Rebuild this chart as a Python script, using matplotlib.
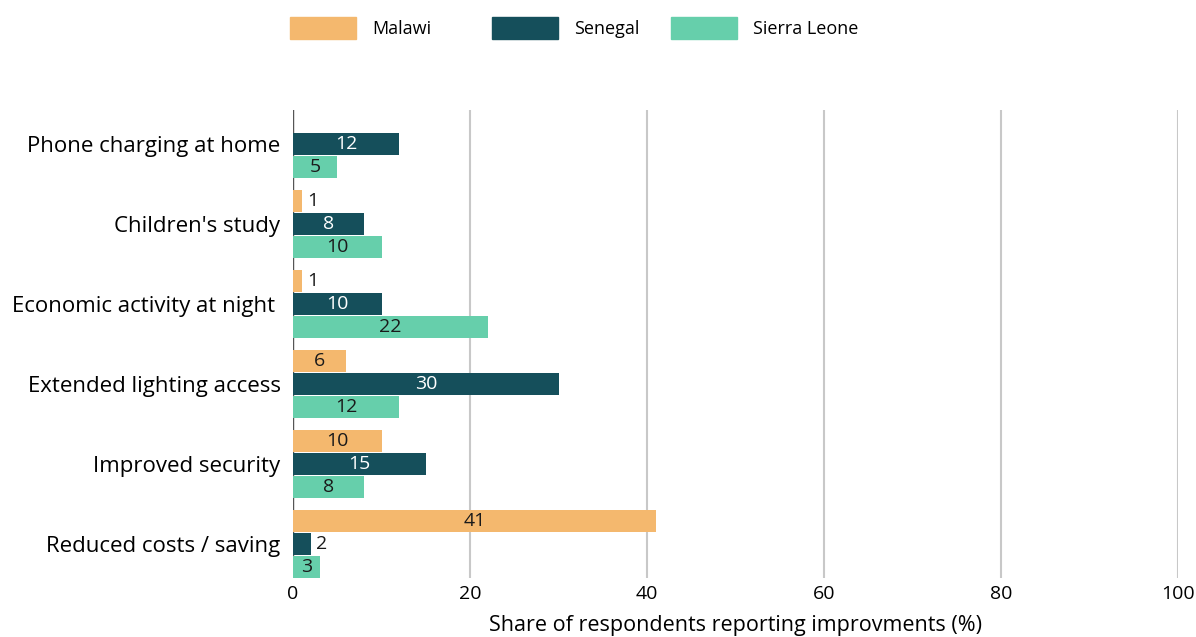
import matplotlib
matplotlib.use('Agg')
import matplotlib.pyplot as plt
from matplotlib.patches import Patch
import numpy as np

plt.rcParams['font.family'] = ['Open Sans', 'DejaVu Sans']

categories = ['Phone charging at home', "Children's study", 'Economic activity at night ',
              'Extended lighting access', 'Improved security', 'Reduced costs / saving']
countries = ['Malawi', 'Senegal', 'Sierra Leone']
malawi = [0, 1, 1, 6, 10, 41]
senegal = [12, 8, 10, 30, 15, 2]
sierra_leone = [5, 10, 22, 12, 8, 3]
xticks = [0, 20, 40, 60, 80, 100]

colors = ['#F4B86E', '#154F5B', '#66CFAB']
label_colors = ['#1a1a1a', 'white', '#1a1a1a']

fig = plt.figure(figsize=(11.96, 6.37), dpi=100)
ax = fig.add_axes([293 / 1196, 1 - 578 / 637, (1178 - 293) / 1196, 468 / 637])

y = np.arange(len(categories))
step = 0.2875
height = 0.275
series = [malawi, senegal, sierra_leone]
for i, (name, vals) in enumerate(zip(countries, series)):
    pos = y + (i - 1) * step
    ax.barh(pos, vals, height=height, color=colors[i], label=name, zorder=3)
    for yy, v in zip(pos, vals):
        if v == 0:
            continue
        if v <= 2:
            ax.text(v + 0.6, yy, str(v), va='center', ha='left', fontsize=14, color='#1a1a1a', zorder=4)
        else:
            ax.text(v / 2, yy, str(v), va='center', ha='center', fontsize=14, color=label_colors[i], zorder=4)

ax.set_ylim(len(categories) - 1 + 0.425, -0.425)
ax.set_xlim(0, 100)
ax.set_yticks(y)
ax.set_yticklabels(categories, fontsize=16)
ax.set_xticks(xticks)
ax.set_xticklabels([str(t) for t in xticks], fontsize=14)
ax.tick_params(axis='x', length=0, pad=5)
ax.tick_params(axis='y', length=0, pad=9)
ax.xaxis.grid(True, color='#c8c8c8', linewidth=1.5, zorder=0)
for s in ax.spines.values():
    s.set_visible(False)
ax.axvline(0, color='#555555', linewidth=1, zorder=2)
ax.set_xlabel('Share of respondents reporting improvments (%)', fontsize=15.5, labelpad=9)

# legend entries placed one by one, as in the original
legend_x = [290, 492, 671]
for name, c, lx in zip(countries, colors, legend_x):
    fig.legend(handles=[Patch(color=c, label=name)], loc='center left',
               bbox_to_anchor=(lx / 1196, 1 - 28 / 637), frameon=False, fontsize=13,
               handlelength=3.65, handleheight=1.5, handletextpad=0.9, borderpad=0, borderaxespad=0)

fig.savefig('out.png', dpi=100)
